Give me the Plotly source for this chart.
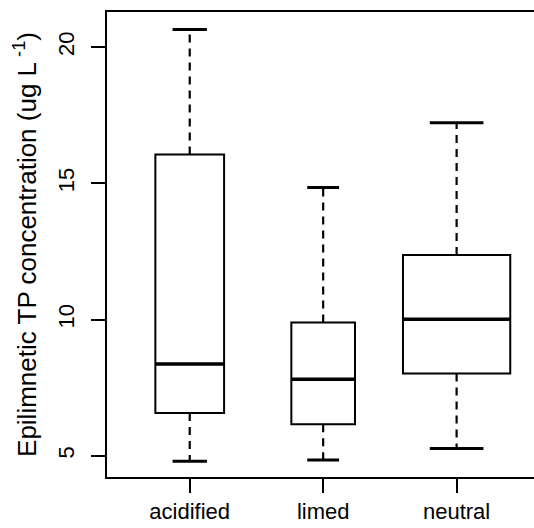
import plotly.graph_objects as go

# ---- data ----
categories = ["acidified", "limed", "neutral"]
lower_whisker = [4.80, 4.84, 5.27]
q1_values = [6.57, 6.16, 8.02]
median_values = [8.37, 7.81, 10.01]
q3_values = [16.06, 9.89, 12.37]
upper_whisker = [20.65, 14.85, 17.22]
y_tick_values = [5, 10, 15, 20]

# ---- style constants ----
BOX_WIDTHS = [0.515, 0.477, 0.804]   # variable widths (varwidth-style)
CAP_FRACTION = 0.5
FONT = "Liberation Sans, Arial, Helvetica, sans-serif"

fig = go.Figure()
positions = list(range(1, len(categories) + 1))

for i, cat in enumerate(categories):
    x0 = positions[i]
    w = BOX_WIDTHS[i]
    # box body (whiskers drawn dashed separately)
    fig.add_trace(go.Box(
        x=[x0], q1=[q1_values[i]], median=[median_values[i]], q3=[q3_values[i]],
        lowerfence=[q1_values[i]], upperfence=[q3_values[i]],
        width=w, whiskerwidth=0, fillcolor="white",
        line=dict(color="black", width=2), showlegend=False, hoverinfo="skip",
        boxpoints=False,
    ))
    # thick median
    fig.add_trace(go.Scatter(
        x=[x0 - w / 2, x0 + w / 2], y=[median_values[i]] * 2, mode="lines",
        line=dict(color="black", width=3.5), showlegend=False, hoverinfo="skip"))
    # dashed whiskers
    fig.add_trace(go.Scatter(
        x=[x0, x0, None, x0, x0],
        y=[q3_values[i], upper_whisker[i], None, q1_values[i], lower_whisker[i]],
        mode="lines", line=dict(color="black", width=2.2, dash="8px,6px"),
        showlegend=False, hoverinfo="skip"))
    # whisker caps
    cw = w * CAP_FRACTION / 2
    fig.add_trace(go.Scatter(
        x=[x0 - cw, x0 + cw, None, x0 - cw, x0 + cw],
        y=[upper_whisker[i]] * 2 + [None] + [lower_whisker[i]] * 2,
        mode="lines", line=dict(color="black", width=3),
        showlegend=False, hoverinfo="skip"))

fig.update_layout(
    width=534, height=528,
    margin=dict(l=107, r=0, t=12, b=51, autoexpand=False),
    paper_bgcolor="white", plot_bgcolor="white",
    font=dict(family=FONT, color="black", size=22),
    showlegend=False,
)
fig.update_xaxes(
    range=[0.38, 3.58], tickmode="array", tickvals=positions, ticktext=categories,
    showline=True, linecolor="black", linewidth=2, mirror=True,
    ticks="outside", ticklen=14, tickwidth=2, tickcolor="black",
    showgrid=False, zeroline=False, tickfont=dict(size=22), automargin=False,
)
fig.update_yaxes(
    range=[4.22, 21.29], tickmode="array", tickvals=y_tick_values,
    ticktext=[str(v) for v in y_tick_values],
    showline=True, linecolor="black", linewidth=2, mirror=False,
    ticks="outside", ticklen=14, tickwidth=2, tickcolor="black",
    showgrid=False, zeroline=False, tickangle=-90, tickfont=dict(size=22),
    ticklabelstandoff=8, automargin=False,
    title=dict(text="Epilimnetic TP concentration (ug L<sup> -1</sup>)",
               font=dict(size=26), standoff=10),
)

fig.write_html(
    "out.html",
    config={"displayModeBar": False},
    post_script="document.body.style.margin='0';document.body.style.overflow='hidden';",
)
